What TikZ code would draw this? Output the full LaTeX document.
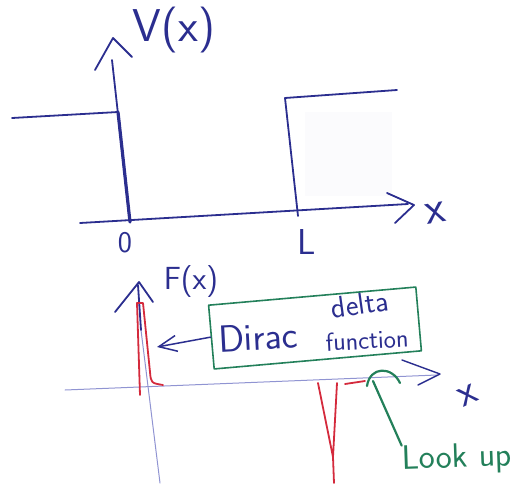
\documentclass[tikz,border=0pt]{standalone}
\usepackage{tikz}
\usetikzlibrary{arrows.meta}
\definecolor{ink}{HTML}{2B2E8F}
\definecolor{inklight}{HTML}{9094D2}
\definecolor{redink}{HTML}{D42A3C}
\definecolor{greenink}{HTML}{23805A}

\begin{document}
\begin{tikzpicture}[x=1pt,y=-1pt,line cap=round,line join=round,
    pen/.style={ink,line width=1.8pt},
    faint/.style={inklight,line width=1pt},
    spike/.style={redink,line width=1.8pt},
    hand/.style={inner sep=0pt,text=ink,font=\sffamily\fontsize{#1}{#1}\selectfont}]
  \useasboundingbox (0,0) rectangle (525,483);
  % potential V(x)
  \coordinate (o1) at (130,222);
  \coordinate (vtop) at (112,60);
  \coordinate (v0) at (118,112);
  \coordinate (w0) at (12,118);
  \coordinate (l1) at (298,216);
  \coordinate (l2) at (285,98);
  \coordinate (w1) at (397,90);
  \coordinate (xs1) at (80,223);
  \coordinate (xe1) at (408,204);
  \fill[ink!2] (305,112) rectangle (392,196);
  \draw[pen] (o1) -- (vtop);
  \draw[pen] (95,70) -- (113,38) -- (132,57);
  \draw[ink,line width=3.2pt] (v0) -- (o1);
  \draw[pen] (w0) -- (v0);
  \draw[pen] (l1) -- (l2) -- (w1);
  \draw[pen] (xs1) -- (xe1);
  \draw[pen] (387,193) -- (414,205) -- (395,223);
  \node[hand=46] (vlab) at (174,30) {V(x)};
  \node[hand=46,rotate=10] (xlab1) at (436,213) {x};
  \node[hand=30] (zero) at (125,243) {0};
  \node[hand=36] (ell) at (307,242) {L};
  % F(x)
  \coordinate (fbot) at (160,483);
  \coordinate (fmid) at (141,330);
  \coordinate (ftop) at (138,285);
  \coordinate (xs2) at (65,390);
  \coordinate (xe2) at (437,375);
  \draw[faint] (fbot) -- (fmid);
  \draw[pen] (fmid) -- (ftop);
  \draw[pen] (115,312) -- (139,282) -- (153,302);
  \draw[faint] (xs2) -- (xe2);
  \draw[pen,line width=1.4pt] (402,360) -- (440,374) -- (418,385);
  \draw[spike] (140,395) -- (137,303) -- (143,303) -- (150,372) .. controls (151,383) .. (163,385);
  \draw[spike] (318,383) -- (333,457) -- (337,383) (333,457) -- (334,483) (345,384) -- (365,381);
  \node[hand=32] (flab) at (191,282) {F(x)};
  \node[hand=42,rotate=25] (xlab2) at (468,395) {x};
  % note box
  \node[draw=greenink,line width=1.6pt,rotate=5,minimum width=208pt,minimum height=64pt] (note) at (315,328) {};
  \node[hand=38,rotate=3] (dirac) at (258,337) {Dirac};
  \node[hand=30,rotate=8] (delta) at (360,304) {delta};
  \node[hand=26,rotate=3] (func) at (367,340) {function};
  \coordinate (dtip) at (157,347);
  \draw[ink,line width=1.5pt,-{Straight Barb[length=18pt,width=16pt]}] (note.west) -- (dtip);
  \node[inner sep=0pt,text=greenink,font=\sffamily\fontsize{34}{34}\selectfont,rotate=2] (look) at (457,459) {Look up};
  \coordinate (gtip) at (373,381);
  \draw[greenink,line width=2.2pt] (look.north west) -- (gtip);
  \draw[greenink,line width=2.2pt] (367,386) .. controls (370,366) and (392,366) .. (400,383);
\end{tikzpicture}
\end{document}
